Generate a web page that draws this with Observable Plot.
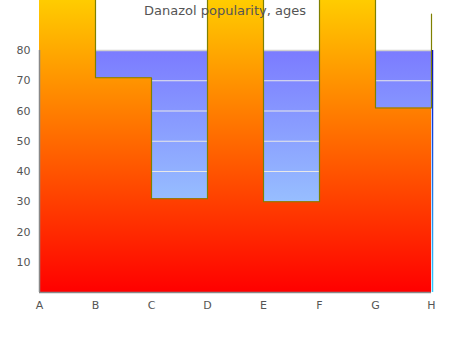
<!DOCTYPE html>
<html>
<head>
<meta charset="utf-8">
<script src="https://cdn.jsdelivr.net/npm/d3@7"></script>
<script src="https://cdn.jsdelivr.net/npm/@observablehq/plot@0.6"></script>
<style>
  html, body { margin: 0; padding: 0; background: #fff; }
  #chart { position: relative; width: 450px; height: 350px; }
  #chart svg text { font-family: "DejaVu Sans", sans-serif !important; font-size: 11px !important; fill: #555; }
  #title { position: absolute; left: 0; top: 3px; width: 450px; text-align: center;
           font: 13px "DejaVu Sans", sans-serif; color: #555; z-index: 2; pointer-events: none; }
</style>
</head>
<body>
<div id="chart"><div id="title">Danazol popularity, ages</div></div>
<script>
const title = "Danazol popularity, ages";
const categories = ["A", "B", "C", "D", "E", "F", "G", "H"];
const values = [100, 71, 31, 100, 30, 100, 61, 92];
const yTicks = [10, 20, 30, 40, 50, 60, 70, 80];
const yMax = 80;

const data = categories.map((c, i) => ({ cat: c, value: values[i] }));
const bg = [{ cat: categories[0], value: yMax }, { cat: categories[categories.length - 1], value: yMax }];

const chart = Plot.plot({
  width: 450,
  height: 350,
  marginLeft: 39,
  marginRight: 19,
  marginTop: 50,
  marginBottom: 58,
  style: { fontFamily: "DejaVu Sans, sans-serif", fontSize: "11px", color: "#555", background: "transparent", overflow: "visible" },
  x: { type: "point", domain: categories, padding: 0, label: null, tickSize: 0, tickPadding: 9 },
  y: { domain: [0, yMax], ticks: yTicks, label: null, tickSize: 0, tickPadding: 9 },
  marks: [
    Plot.areaY(bg, { x: "cat", y: "value", fill: "url(#gradBlue)" }),
    Plot.ruleY(yTicks.slice(0, -1), { stroke: "#e8e8e8", strokeWidth: 1 }),
    Plot.ruleY([yMax], { stroke: "#d0d0d0", strokeWidth: 1.5 }),
    Plot.ruleX([categories[categories.length - 1]], { y1: 0, y2: yMax, dx: 1, stroke: "url(#gradEdge)", strokeWidth: 1.5 }),
    Plot.areaY(data, { x: "cat", y: "value", curve: "step-after", fill: "url(#gradOrange)" }),
    Plot.lineY(data, { x: "cat", y: "value", curve: "step-after", stroke: "#7f8000", strokeWidth: 1.2 }),
    Plot.ruleX([categories[0]], { y1: 0, y2: yMax, stroke: "#888", strokeWidth: 1.5 }),
    Plot.ruleY([0], { stroke: "#888", strokeWidth: 1.5 })
  ]
});

const ys = chart.scale("y");
const y0 = ys.apply(0), y80 = ys.apply(yMax);
const svg = d3.select(chart);
const defs = svg.insert("defs", ":first-child");
const og = defs.append("linearGradient").attr("id", "gradOrange")
  .attr("gradientUnits", "userSpaceOnUse").attr("x1", 0).attr("x2", 0).attr("y1", y0).attr("y2", 0);
og.append("stop").attr("offset", "0%").attr("stop-color", "#ff0000");
og.append("stop").attr("offset", "100%").attr("stop-color", "#ffcc00");
const bgG = defs.append("linearGradient").attr("id", "gradBlue")
  .attr("gradientUnits", "userSpaceOnUse").attr("x1", 0).attr("x2", 0).attr("y1", y80).attr("y2", y0);
bgG.append("stop").attr("offset", "0%").attr("stop-color", "#7b7bff");
bgG.append("stop").attr("offset", "100%").attr("stop-color", "#a8e6ff");
const eg = defs.append("linearGradient").attr("id", "gradEdge")
  .attr("gradientUnits", "userSpaceOnUse").attr("x1", 0).attr("x2", 0).attr("y1", y80).attr("y2", y0);
eg.append("stop").attr("offset", "0%").attr("stop-color", "#0000cc");
eg.append("stop").attr("offset", "100%").attr("stop-color", "#33ccff");

svg.style("position", "absolute").style("left", "0").style("top", "0");
document.getElementById("chart").appendChild(chart);
</script>
</body>
</html>
